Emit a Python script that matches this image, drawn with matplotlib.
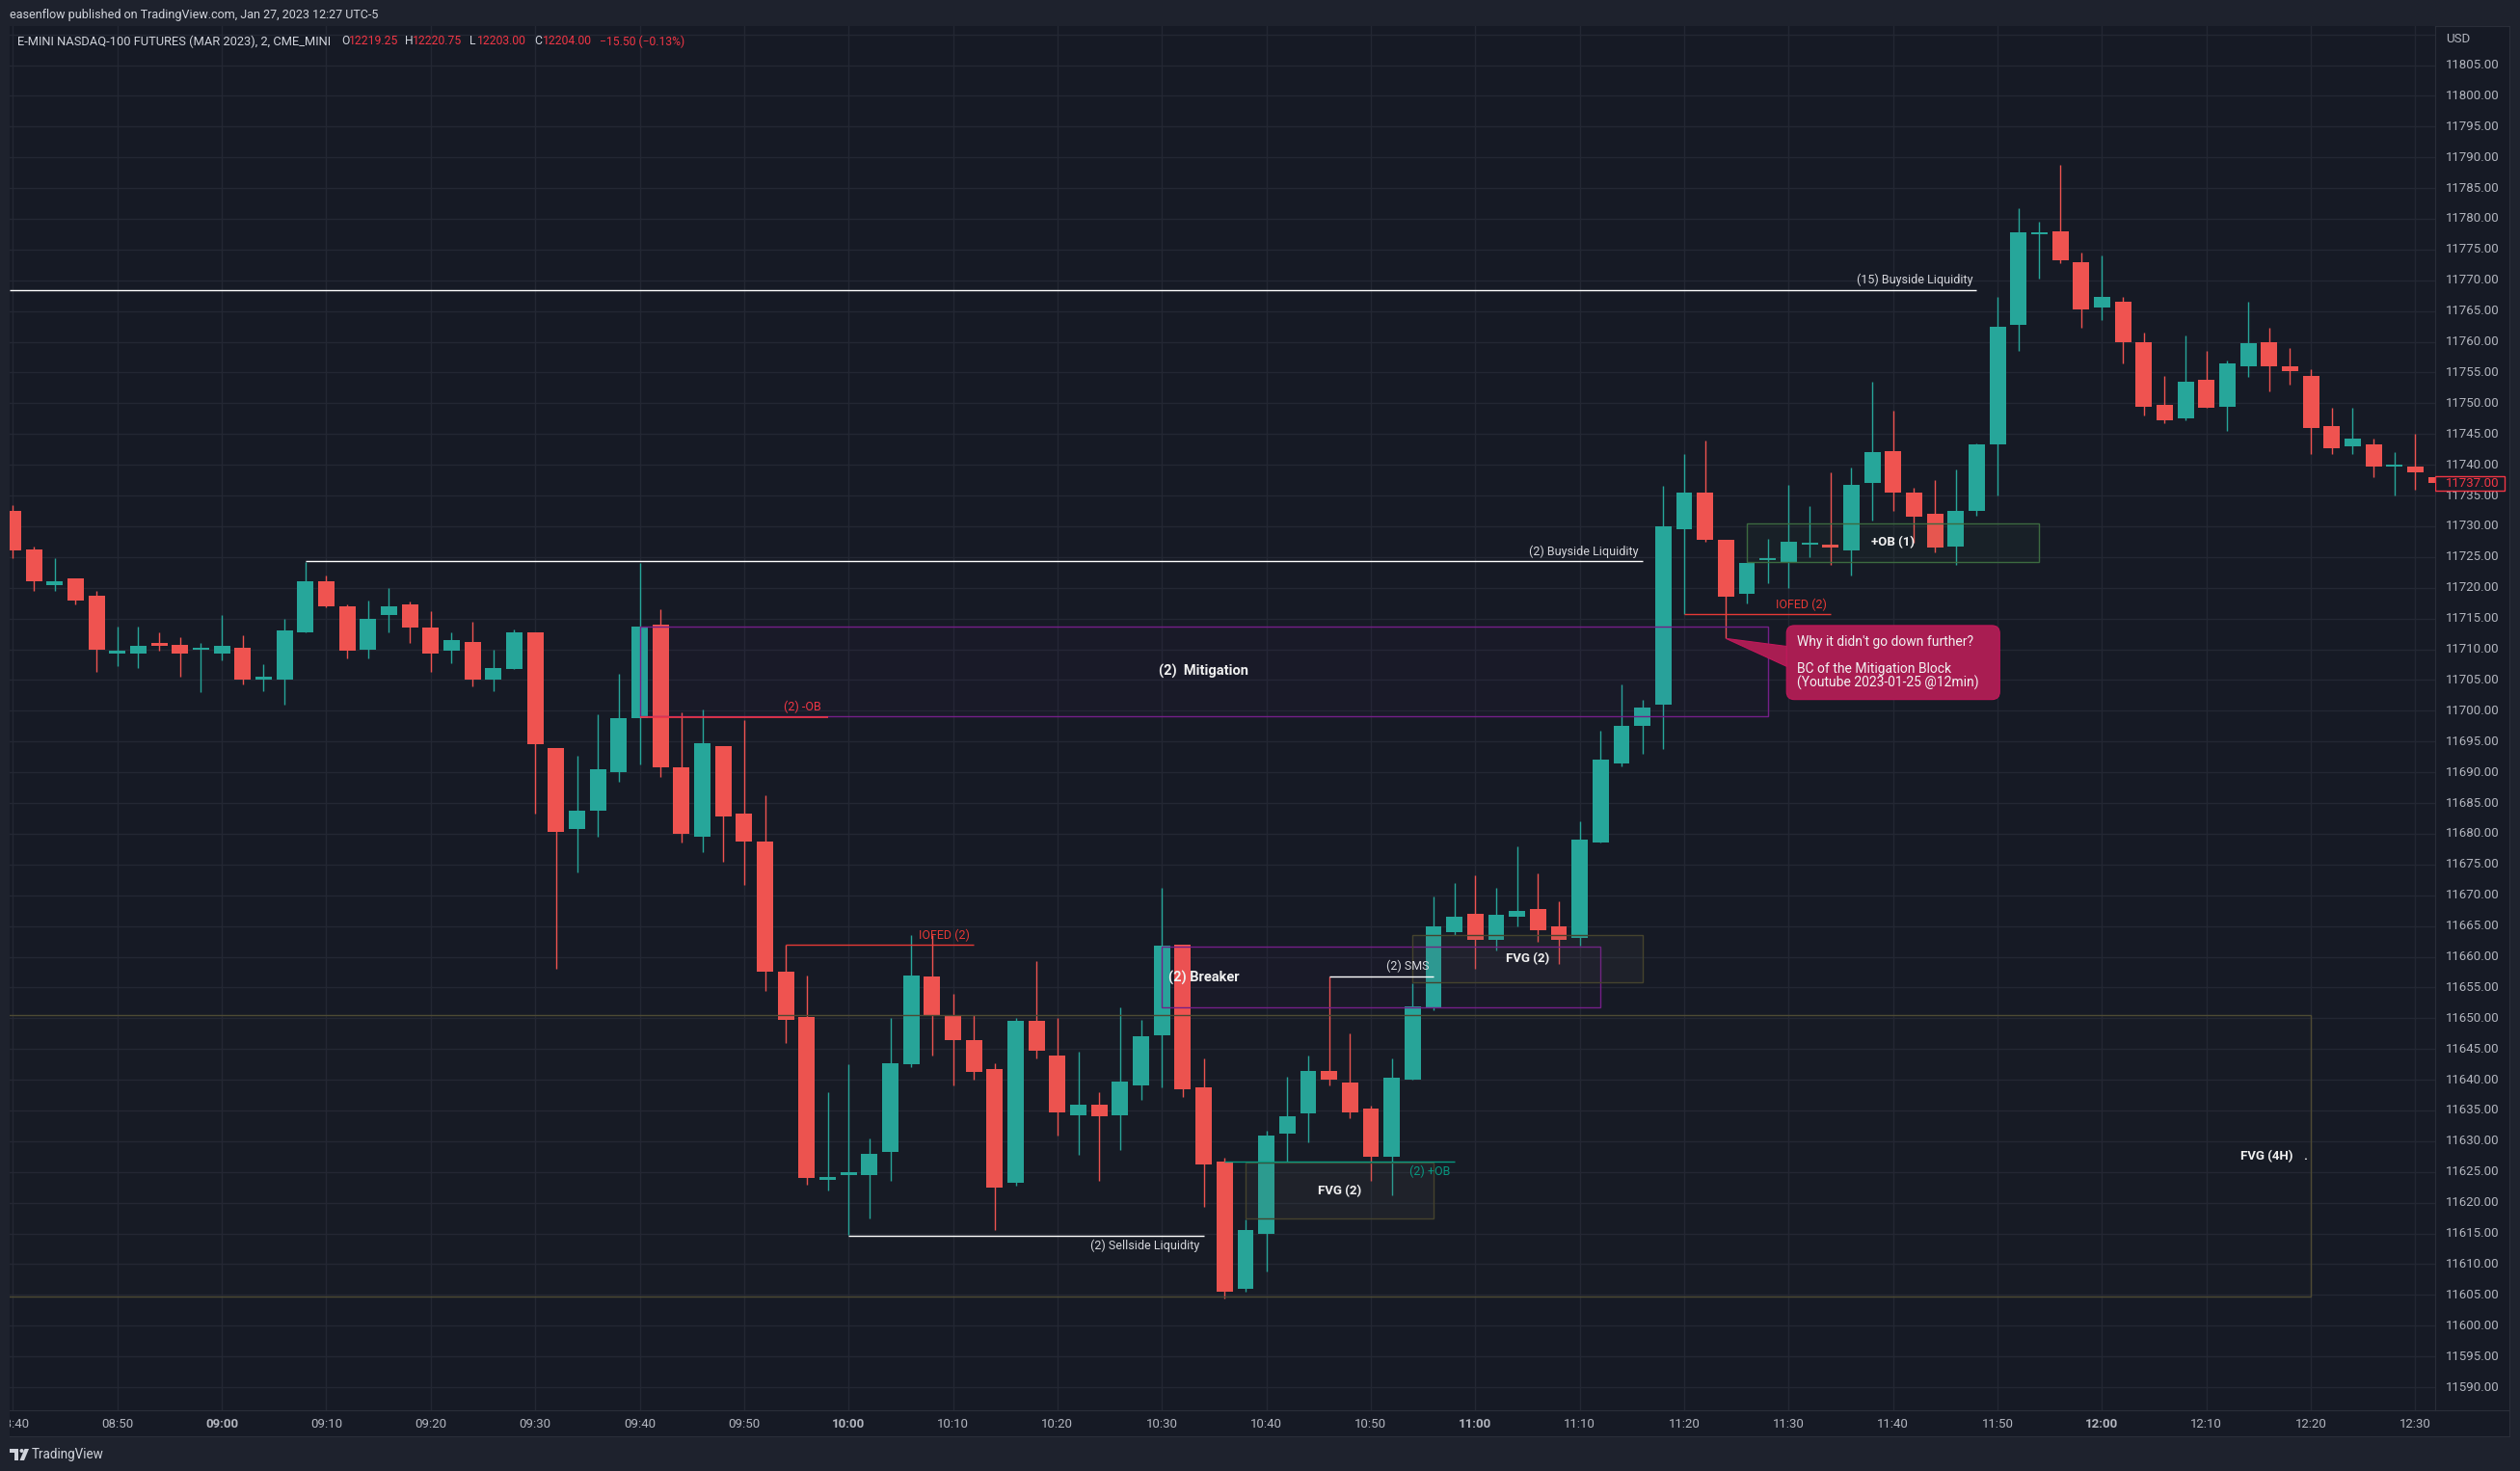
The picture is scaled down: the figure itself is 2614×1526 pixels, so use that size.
import numpy as np
import matplotlib
matplotlib.use('Agg')
import matplotlib.pyplot as plt
from matplotlib.patches import Rectangle, FancyBboxPatch, Polygon, Circle

plt.rcParams['font.family'] = ['Roboto', 'DejaVu Sans']

W, H = 2614, 1526

# 2 minute candles, first one is 08:40
opens = [11732.5, 11726.25, 11720.5, 11721.5, 11718.75, 11709.25, 11709.25, 11711.0, 11710.75, 11710.0,
         11709.25, 11710.25, 11705.0, 11705.0, 11712.75, 11721.0, 11717.0, 11710.0, 11715.5, 11717.25,
         11713.5, 11709.75, 11711.25, 11705.0, 11706.75, 11712.75, 11694.0, 11680.75, 11683.75, 11690.0,
         11698.75, 11714.0, 11690.75, 11679.5, 11694.25, 11683.25, 11678.75, 11657.5, 11650.25, 11623.75,
         11624.5, 11624.5, 11628.25, 11642.5, 11656.75, 11650.5, 11646.5, 11641.75, 11623.25, 11649.5,
         11644.0, 11634.25, 11636.0, 11634.25, 11639.0, 11647.25, 11662.0, 11638.75, 11626.75, 11606.0,
         11615.0, 11631.25, 11634.5, 11641.5, 11639.5, 11635.25, 11627.5, 11640.0, 11651.75, 11664.0,
         11667.0, 11662.75, 11666.5, 11667.75, 11665.0, 11663.0, 11678.5, 11691.5, 11697.5, 11701.0,
         11729.5, 11735.5, 11727.75, 11719.0, 11724.5, 11724.25, 11727.0, 11727.0, 11726.0, 11737.0,
         11742.25, 11735.5, 11732.0, 11726.75, 11732.5, 11743.25, 11762.75, 11777.5, 11778.0, 11773.0,
         11765.5, 11766.5, 11760.0, 11749.75, 11747.5, 11753.75, 11749.5, 11756.0, 11760.0, 11756.0,
         11754.5, 11746.25, 11743.0, 11743.25, 11739.75, 11739.75, 11738.0]
highs = [11733.5, 11726.75, 11724.75, 11721.5, 11719.5, 11713.75, 11713.75, 11712.75, 11712.0, 11711.0,
         11715.5, 11712.25, 11707.5, 11715.0, 11724.25, 11722.0, 11717.25, 11718.0, 11720.0, 11717.75,
         11716.25, 11712.75, 11714.5, 11710.0, 11713.25, 11712.75, 11694.0, 11692.75, 11699.5, 11706.0,
         11724.0, 11716.5, 11699.75, 11700.25, 11694.25, 11698.5, 11686.25, 11662.0, 11657.0, 11638.0,
         11642.5, 11630.5, 11650.0, 11663.5, 11663.5, 11654.0, 11650.5, 11642.75, 11650.0, 11659.25,
         11650.0, 11644.5, 11638.0, 11651.75, 11649.75, 11671.25, 11662.0, 11643.5, 11627.25, 11617.25,
         11631.75, 11640.5, 11644.0, 11656.75, 11647.5, 11635.75, 11643.5, 11655.75, 11669.75, 11672.0,
         11673.25, 11671.25, 11678.0, 11673.5, 11669.0, 11682.0, 11696.75, 11704.25, 11701.75, 11736.5,
         11741.75, 11744.0, 11727.75, 11724.0, 11728.0, 11736.75, 11733.25, 11738.75, 11739.5, 11753.5,
         11748.75, 11736.25, 11737.5, 11739.25, 11743.5, 11767.25, 11781.75, 11779.5, 11788.75, 11774.5,
         11774.0, 11767.25, 11761.5, 11754.5, 11761.0, 11758.5, 11757.0, 11766.5, 11762.25, 11759.0,
         11755.5, 11749.25, 11749.25, 11744.25, 11742.0, 11745.0, 11738.5]
lows = [11724.75, 11719.5, 11719.5, 11717.25, 11706.25, 11707.25, 11707.0, 11709.75, 11705.5, 11703.0,
        11708.25, 11704.25, 11703.25, 11701.0, 11712.75, 11716.75, 11708.5, 11708.5, 11712.75, 11711.0,
        11706.25, 11707.75, 11704.0, 11703.25, 11706.75, 11683.25, 11658.0, 11673.75, 11679.5, 11688.5,
        11691.25, 11689.25, 11678.5, 11677.0, 11675.5, 11671.75, 11654.5, 11646.0, 11623.0, 11622.0,
        11614.75, 11617.5, 11623.5, 11642.0, 11644.0, 11639.0, 11640.0, 11615.5, 11622.75, 11643.5,
        11631.0, 11627.75, 11623.5, 11628.5, 11636.75, 11638.75, 11637.25, 11619.25, 11604.5, 11605.5,
        11608.75, 11626.5, 11629.75, 11639.0, 11633.75, 11623.5, 11621.25, 11640.0, 11651.25, 11663.5,
        11658.0, 11661.0, 11665.0, 11662.5, 11658.75, 11661.75, 11678.5, 11691.0, 11693.0, 11693.75,
        11715.75, 11727.5, 11711.75, 11717.5, 11720.75, 11720.0, 11725.0, 11723.75, 11722.0, 11731.0,
        11732.5, 11727.25, 11725.75, 11723.75, 11731.75, 11735.0, 11758.5, 11770.25, 11772.75, 11762.25,
        11763.5, 11756.5, 11748.0, 11746.75, 11747.25, 11749.25, 11745.5, 11754.25, 11752.0, 11753.0,
        11741.75, 11741.75, 11741.75, 11738.0, 11735.0, 11736.0, 11736.75]
closes = [11726.0, 11721.0, 11721.0, 11718.0, 11710.0, 11709.75, 11710.5, 11710.5, 11709.25, 11710.25,
          11710.5, 11705.0, 11705.5, 11713.0, 11721.0, 11717.0, 11709.75, 11715.0, 11717.0, 11713.5,
          11709.25, 11711.5, 11705.0, 11707.0, 11712.75, 11694.5, 11680.25, 11683.75, 11690.5, 11698.75,
          11713.75, 11690.75, 11680.0, 11694.75, 11682.75, 11678.75, 11657.5, 11649.75, 11624.0, 11624.25,
          11625.0, 11628.0, 11642.75, 11657.0, 11650.5, 11646.5, 11641.25, 11622.5, 11649.5, 11644.75,
          11634.75, 11636.0, 11634.0, 11639.75, 11647.0, 11661.75, 11638.5, 11626.25, 11605.5, 11615.5,
          11631.0, 11634.0, 11641.5, 11640.0, 11634.75, 11627.5, 11640.25, 11652.0, 11665.0, 11666.5,
          11662.75, 11666.75, 11667.5, 11664.25, 11662.75, 11679.0, 11692.0, 11697.5, 11700.5, 11730.0,
          11735.5, 11727.75, 11718.5, 11724.0, 11724.5, 11727.5, 11727.0, 11726.5, 11736.75, 11742.0,
          11735.5, 11731.5, 11726.5, 11732.5, 11743.25, 11762.5, 11777.75, 11777.75, 11773.25, 11765.25,
          11767.25, 11760.0, 11749.5, 11747.25, 11753.5, 11749.25, 11756.5, 11759.75, 11756.0, 11755.25,
          11746.0, 11742.75, 11744.25, 11739.75, 11740.0, 11738.75, 11737.0]

time_labels = ['08:40', '08:50', '09:00', '09:10', '09:20', '09:30', '09:40', '09:50', '10:00', '10:10',
               '10:20', '10:30', '10:40', '10:50', '11:00', '11:10', '11:20', '11:30', '11:40', '11:50',
               '12:00', '12:10', '12:20', '12:30']
price_ticks = list(range(11590, 11810, 5))
last_price = 11737.0

# drawings (candle index, price)
buyside15_level, buyside15_end = 11768.4, 94
buyside2_level, buyside2_span = 11724.35, (14, 78)
sellside2_level, sellside2_span = 11614.6, (40, 57)
minus_ob_level, minus_ob_span = 11699.0, (30, 39)
iofed_low_level, iofed_low_span = 11662.0, (37, 46)
iofed_up_level, iofed_up_span = 11715.75, (80, 87)
sms_level, sms_span = 11656.85, (63, 68)
plus_ob_level, plus_ob_span = 11626.7, (58, 69)
mitigation_box = (30, 84, 11699.1, 11713.7)
breaker_box = (55, 76, 11651.7, 11661.7)
fvg_low_box = (59, 68, 11617.4, 11626.5)
fvg_up_box = (67, 78, 11655.9, 11663.6)
fvg_4h_box = (-1, 110, 11604.75, 11650.5)
ob1_box = (83, 97, 11724.2, 11730.5)
callout_tip = (82, 11711.75)

BG = '#161a25'
FRAME = '#1e222d'
GRID = '#232733'
UP = '#26a69a'
DOWN = '#ef5350'
TXT = '#d6d7dc'
AXT = '#b2b5be'
RED = '#f23645'

fig = plt.figure(figsize=(W / 100, H / 100), dpi=100, facecolor=FRAME)

# pixel layout of the chart pane
left, right, top, bottom = 10, 2526.3, 27, 1463.3
xlim = (-0.157, 115.96)
ylim = (11586.2, 11811.35)

ax = fig.add_axes([left / W, (H - bottom) / H, (right - left) / W, (bottom - top) / H])
ax.set_facecolor(BG)
ax.set_xlim(*xlim)
ax.set_ylim(*ylim)
ax.set_xticks([])
ax.set_yticks([])
for s in ax.spines.values():
    s.set_visible(False)

# grid
for i in range(len(time_labels)):
    ax.axvline(i * 5, color=GRID, lw=1.0, zorder=0)
for p in price_ticks + [11810]:
    ax.axhline(p, color=GRID, lw=1.0, zorder=0)

# candles
x = np.arange(len(opens))
o, h, l, c = map(np.array, (opens, highs, lows, closes))
cols = np.where(c >= o, UP, DOWN)
ax.vlines(x, l, h, colors=cols, lw=1.0, zorder=2)
ax.bar(x, np.maximum(np.abs(c - o), 0.25), bottom=np.minimum(o, c), width=0.78,
       color=cols, linewidth=0, zorder=3)


def box(b, edge, face, lw=1.0):
    x0, x1, y0, y1 = b
    ax.add_patch(Rectangle((x0, y0), x1 - x0, y1 - y0, facecolor=face, edgecolor=edge,
                           lw=lw, zorder=4))


box(mitigation_box, '#741f88', (0.48, 0.12, 0.64, 0.03))
box(breaker_box, '#741f88', (0.48, 0.12, 0.64, 0.03))
box(fvg_low_box, '#45432d', (0.35, 0.35, 0.33, 0.12))
box(fvg_up_box, '#45432d', (0.35, 0.35, 0.33, 0.12))
box(fvg_4h_box, '#4d4a33', (0.4, 0.4, 0.3, 0.015))
box(ob1_box, '#3c6a40', (0.25, 0.6, 0.3, 0.05))

# lines
ax.hlines(buyside15_level, xlim[0], buyside15_end, color='white', lw=1.0, zorder=5)
ax.hlines(buyside2_level, *buyside2_span, color='white', lw=1.0, zorder=5)
ax.hlines(sellside2_level, *sellside2_span, color='white', lw=1.0, zorder=5)
ax.hlines(sms_level, *sms_span, color='white', lw=1.0, zorder=5)
ax.hlines(minus_ob_level, *minus_ob_span, color=RED, lw=1.2, zorder=5)
ax.hlines(iofed_low_level, *iofed_low_span, color='#e53935', lw=1.0, zorder=5)
ax.hlines(iofed_up_level, *iofed_up_span, color='#e53935', lw=1.0, zorder=5)
ax.hlines(plus_ob_level, *plus_ob_span, color='#089981', lw=1.0, zorder=5)

# labels
lab = dict(zorder=6, va='center')
ax.text(93.8, 11770.0, '(15) Buyside Liquidity', ha='right', color=TXT, size=9, **lab)
ax.text(77.8, 11725.8, '(2) Buyside Liquidity', ha='right', color=TXT, size=9, **lab)
ax.text(56.8, 11612.95, '(2) Sellside Liquidity', ha='right', color=TXT, size=9, **lab)
ax.text(67.8, 11658.4, '(2) SMS', ha='right', color=TXT, size=9, **lab)
ax.text(38.7, 11700.6, '(2) -OB', ha='right', color=RED, size=9, **lab)
ax.text(45.8, 11663.5, 'IOFED (2)', ha='right', color='#e53935', size=9, **lab)
ax.text(86.8, 11717.2, 'IOFED (2)', ha='right', color='#e53935', size=9, **lab)
ax.text(68.8, 11625.1, '(2) +OB', ha='right', color='#089981', size=9, **lab)
ax.text(57, 11706.4, '(2)  Mitigation', ha='center', color='#f0f0f0', size=10.5,
        fontweight='bold', **lab)
ax.text(55.3, 11656.5, '(2) Breaker', ha='left', color='#f0f0f0', size=10.5,
        fontweight='bold', **lab)
ax.text(63.5, 11621.95, 'FVG (2)', ha='center', color='#f0f0f0', size=9.5, fontweight='bold', **lab)
ax.text(72.5, 11659.75, 'FVG (2)', ha='center', color='#f0f0f0', size=9.5, fontweight='bold', **lab)
ax.text(90, 11727.35, '+OB (1)', ha='center', color='#f0f0f0', size=9.5, fontweight='bold', **lab)
ax.text(109.15, 11627.6, 'FVG (4H)', ha='right', color='#f0f0f0', size=9.5, fontweight='bold', **lab)
ax.text(109.7, 11627.6, '.', ha='center', color='#f0f0f0', size=9.5, fontweight='bold', **lab)

# callout
PINK = '#a91d52'
bx0, bx1, by0, by1 = 84.9, 95.1, 11701.83, 11713.86
ax.add_patch(Polygon([callout_tip, (85.3, 11710.3), (85.3, 11706.6)], closed=True,
                     facecolor=PINK, edgecolor='#c2185b', lw=0.8, zorder=7))
ax.add_patch(FancyBboxPatch((bx0, by0), bx1 - bx0, by1 - by0,
                            boxstyle='round,pad=0,rounding_size=0.37',
                            mutation_aspect=21.67 / 6.38,
                            facecolor=PINK, edgecolor='#c2185b', lw=0.8, zorder=7))
ax.text(85.4, 11711.2, "Why it didn't go down further?", color='#f2f2f2', size=10,
        ha='left', va='center', zorder=8)
ax.text(85.4, 11706.76, 'BC of the Mitigation Block', color='#f2f2f2', size=10,
        ha='left', va='center', zorder=8)
ax.text(85.4, 11704.5, '(Youtube 2023-01-25 @12min)', color='#f2f2f2', size=10,
        ha='left', va='center', zorder=8)

# time axis
tax = fig.add_axes([left / W, (H - 1490) / H, (2603 - left) / W, (1490 - bottom) / H])
tax.set_facecolor(BG)
ppu = (right - left) / (xlim[1] - xlim[0])
tax.set_xlim(xlim[0], xlim[0] + (2603 - left) / ppu)
tax.set_ylim(0, 1)
tax.set_xticks([])
tax.set_yticks([])
for k, s in tax.spines.items():
    s.set_color('#2a2e39')
    s.set_visible(k in ('top', 'bottom', 'right'))
for i, t in enumerate(time_labels):
    tax.text(i * 5, 0.45, t, ha='center', va='center', color=AXT, size=9.5, clip_on=True,
             fontweight='bold' if t.endswith(':00') else 'normal')

# price axis
pax = fig.add_axes([right / W, (H - bottom) / H, (2603 - right) / W, (bottom - top) / H])
pax.set_facecolor(BG)
pax.set_xlim(0, 2603 - right)
pax.set_ylim(*ylim)
pax.set_xticks([])
pax.set_yticks([])
for k, s in pax.spines.items():
    s.set_color('#2a2e39')
    s.set_visible(k in ('left', 'right', 'top'))
for p in price_ticks:
    pax.text(10.7, p, f'{p:.2f}', ha='left', va='center', color=AXT, size=9.5)
pax.text(10.7, 11809.3, 'USD', ha='left', va='center', color=AXT, size=9.5)
pax.add_patch(Rectangle((0, last_price - 1.2), 72, 2.4, facecolor=BG, edgecolor=RED,
                        lw=1.0, zorder=5))
pax.text(10.7, last_price, f'{last_price:.2f}', ha='left', va='center', color=RED,
         size=9.5, zorder=6)

# overlay in pixel coordinates for header / footer
ov = fig.add_axes([0, 0, 1, 1], zorder=10)
ov.set_xlim(0, W)
ov.set_ylim(H, 0)
ov.axis('off')
ov.patch.set_alpha(0)
ov.text(10, 15, 'easenflow published on TradingView.com, Jan 27, 2023 12:27 UTC-5',
        color='#d1d4dc', size=9, va='center', ha='left')
ov.text(18, 43, 'E-MINI NASDAQ-100 FUTURES (MAR 2023), 2, CME_MINI', color='#d1d4dc',
        size=9.3, va='center', ha='left')
sym = [('O', 354, '#d1d4dc'), ('12219.25', 362, RED),
       ('H', 420, '#d1d4dc'), ('12220.75', 428, RED),
       ('L', 487, '#d1d4dc'), ('12203.00', 495, RED),
       ('C', 554, '#d1d4dc'), ('12204.00', 563, RED),
       ('\u221215.50 (\u22120.13%)', 622, RED)]
for s, px, col in sym:
    ov.text(px, 43, s, color=col, size=8.75, va='center', ha='left')

# TradingView logo + name
ov.add_patch(Polygon([(10, 1503), (19, 1503), (19, 1515), (15, 1515), (15, 1507), (10, 1507)],
                     closed=True, facecolor='#d1d4dc', edgecolor='none'))
ov.add_patch(Circle((22.5, 1505), 2.0, facecolor='#d1d4dc', edgecolor='none'))
ov.add_patch(Polygon([(25.5, 1503), (30, 1503), (25, 1515), (20.5, 1515)], closed=True,
                     facecolor='#d1d4dc', edgecolor='none'))
ov.text(33, 1509, 'TradingView', color='#d1d4dc', size=9.75, va='center', ha='left')

fig.savefig('out.png', dpi=100, facecolor=FRAME)
